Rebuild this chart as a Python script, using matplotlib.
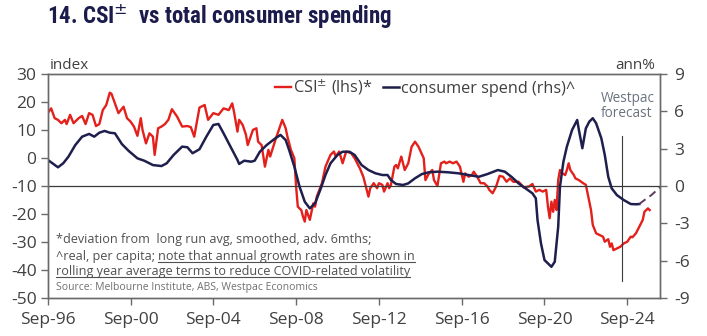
import numpy as np
import pandas as pd
import matplotlib
matplotlib.use('Agg')
import matplotlib.pyplot as plt
from matplotlib.lines import Line2D
from matplotlib import font_manager

plt.rcParams['font.family'] = ['Open Sans', 'DejaVu Sans']
plt.rcParams['axes.unicode_minus'] = False

# CSI (lhs, index, deviation from long run avg)
csi_dates = [
    '1996-09', '1996-11', '1997-01', '1997-03', '1997-05', '1997-07', '1997-08', '1997-10', '1997-12',
    '1998-03', '1998-05', '1998-07', '1998-09', '1998-11', '1999-01', '1999-03', '1999-05', '1999-07',
    '1999-09', '1999-10', '1999-12', '2000-02', '2000-05', '2000-07', '2000-09', '2000-11', '2001-01',
    '2001-03', '2001-04', '2001-06', '2001-08', '2001-10', '2001-11', '2002-01', '2002-03', '2002-05',
    '2002-07', '2002-09', '2002-12', '2003-03', '2003-06', '2003-08', '2003-10', '2003-11', '2004-01',
    '2004-04', '2004-06', '2004-09', '2004-12', '2005-03', '2005-06', '2005-08', '2005-09', '2005-11',
    '2005-12', '2006-02', '2006-04', '2006-05', '2006-06', '2006-08', '2006-10', '2006-11', '2007-01',
    '2007-03', '2007-05', '2007-06', '2007-09', '2007-11', '2008-01', '2008-03', '2008-04', '2008-06',
    '2008-08', '2008-09', '2008-10', '2008-12', '2009-01', '2009-02', '2009-03', '2009-05', '2009-07',
    '2009-08', '2009-09', '2009-12', '2010-02', '2010-05', '2010-07', '2010-08', '2010-10', '2010-12',
    '2011-02', '2011-05', '2011-07', '2011-10', '2011-12', '2012-03', '2012-04', '2012-06', '2012-08',
    '2012-09', '2012-11', '2012-12', '2013-02', '2013-03', '2013-04', '2013-06', '2013-07', '2013-08',
    '2013-10', '2013-11', '2013-12', '2014-02', '2014-04', '2014-06', '2014-08', '2014-11', '2014-12',
    '2015-02', '2015-04', '2015-05', '2015-07', '2015-09', '2015-11', '2015-12', '2016-02', '2016-04',
    '2016-06', '2016-08', '2016-10', '2016-11', '2017-01', '2017-03', '2017-04', '2017-06', '2017-08',
    '2017-10', '2017-12', '2018-01', '2018-03', '2018-05', '2018-07', '2018-09', '2018-11', '2019-01',
    '2019-03', '2019-06', '2019-09', '2019-12', '2020-02', '2020-04', '2020-06', '2020-08', '2020-10',
    '2020-11', '2020-12', '2021-01', '2021-02', '2021-03', '2021-04', '2021-05', '2021-06', '2021-07',
    '2021-09', '2021-10', '2021-11', '2021-12', '2022-02', '2022-03', '2022-05', '2022-07', '2022-09',
    '2022-10', '2022-12', '2023-01', '2023-03', '2023-05', '2023-07', '2023-08', '2023-10', '2023-11',
    '2023-12', '2024-01', '2024-03', '2024-05', '2024-07', '2024-09', '2024-11', '2024-12', '2025-02',
    '2025-04', '2025-06', '2025-07', '2025-09', '2025-10']
csi_values = [
    16.0, 17.7, 14.2, 13.6, 12.4, 13.6, 12.1, 15.4, 12.4,
    14.2, 15.0, 12.1, 16.0, 15.4, 11.4, 12.1, 17.1, 18.9,
    23.3, 22.9, 19.5, 16.0, 18.3, 14.2, 13.0, 11.2, 7.9,
    14.2, 10.0, 5.2, 8.8, 7.6, 1.1, 10.6, 11.2, 12.1,
    13.6, 17.4, 14.8, 11.2, 11.4, 11.0, 7.6, 11.2, 18.0,
    18.9, 13.6, 16.0, 15.4, 17.7, 17.1, 19.5, 16.5, 9.4,
    13.6, 11.8, 8.2, 4.6, 6.4, 10.0, 10.6, 5.8, 4.6,
    -3.1, 2.9, 0.5, 6.4, 10.0, 13.6, 10.6, 7.6, 2.9,
    -0.1, -10.2, -17.4, -18.6, -21.0, -22.7, -18.6, -22.1, -16.2,
    -17.4, -13.8, -9.0, -3.1, 1.1, 2.3, 0.5, 2.3, -1.9,
    2.3, 1.7, -0.1, -3.7, -6.7, -13.8, -10.8, -9.0, -10.8,
    -9.0, -9.6, -12.0, -9.0, -10.8, -9.6, -3.1, -2.5, -3.7,
    0.5, -1.9, -4.3, -1.9, 4.0, 5.8, 4.0, -0.1, -7.9,
    -5.5, -4.3, -7.9, -10.0, -1.9, -1.3, -1.9, -1.3, -1.9,
    -1.3, -3.1, -8.5, -5.5, -6.7, -6.1, -4.9, -6.7, -9.0,
    -9.0, -10.2, -11.4, -12.6, -10.2, -6.4, -6.7, -8.5, -7.3,
    -8.5, -8.5, -10.5, -10.2, -9.3, -12.0, -11.4, -12.0, -11.4,
    -17.4, -21.5, -15.6, -19.2, -15.0, -18.6, -7.9, -4.3, -5.3,
    -6.1, -4.3, -1.9, -4.3, -6.1, -7.3, -7.9, -8.8, -9.6,
    -12.6, -18.6, -23.9, -26.9, -27.5, -28.1, -29.9, -29.0, -31.7,
    -30.5, -32.9, -32.3, -31.7, -30.5, -29.9, -28.1, -28.3, -26.9,
    -24.5, -22.1, -19.2, -18.0, -18.6]

# consumer spend (rhs, ann%)
spend_dates = [
    '1996-09', '1997-03', '1997-06', '1997-09', '1998-01', '1998-05', '1998-09', '1998-12', '1999-03',
    '1999-06', '1999-09', '1999-12', '2000-04', '2000-08', '2001-01', '2001-05', '2001-10', '2002-03',
    '2002-06', '2002-10', '2003-03', '2003-06', '2003-09', '2004-01', '2004-05', '2004-09', '2004-12',
    '2005-03', '2005-07', '2005-11', '2005-12', '2006-03', '2006-07', '2006-09', '2006-12', '2007-04',
    '2007-09', '2007-12', '2008-03', '2008-05', '2008-08', '2008-11', '2009-02', '2009-05', '2009-08',
    '2009-11', '2010-02', '2010-05', '2010-09', '2010-12', '2011-04', '2011-07', '2011-11', '2012-03',
    '2012-07', '2012-11', '2013-02', '2013-04', '2013-07', '2013-11', '2014-02', '2014-06', '2014-10',
    '2015-02', '2015-07', '2016-01', '2016-07', '2017-01', '2017-07', '2017-12', '2018-06', '2018-10',
    '2019-02', '2019-06', '2019-10', '2020-02', '2020-04', '2020-05', '2020-07', '2020-09', '2021-01',
    '2021-03', '2021-05', '2021-06', '2021-08', '2021-10', '2022-01', '2022-04', '2022-05', '2022-07',
    '2022-09', '2022-11', '2023-01', '2023-03', '2023-06', '2023-08', '2023-10', '2023-12', '2024-03',
    '2024-07', '2024-11', '2025-02', '2025-04']
spend_values = [
    2.10, 1.50, 1.82, 2.35, 3.29, 3.96, 4.18, 3.96, 4.28,
    4.42, 4.28, 4.23, 3.37, 2.81, 2.22, 2.03, 1.68, 1.60,
    1.82, 2.49, 3.16, 3.11, 2.63, 2.95, 3.96, 4.90, 4.98,
    4.23, 3.16, 2.09, 1.77, 2.03, 1.95, 2.03, 2.75, 3.29,
    3.83, 4.10, 3.69, 2.89, 1.55, -0.06, -1.27, -1.80, -1.39,
    -0.32, 0.88, 1.82, 2.49, 2.75, 2.75, 2.49, 1.68, 1.28,
    1.02, 0.88, 0.88, 0.48, 0.16, 0.08, 0.21, 0.62, 0.96,
    1.10, 1.15, 1.10, 1.02, 0.88, 0.74, 0.96, 1.28, 1.15,
    0.72, 0.21, -0.19, -0.59, -0.99, -2.73, -4.61, -5.95, -6.49,
    -6.09, -3.27, -0.06, 1.95, 3.16, 4.50, 5.30, 4.50, 3.03,
    4.63, 5.17, 5.44, 5.04, 3.83, 2.49, 0.74, -0.19, -0.73,
    -1.13, -1.45, -1.47, -1.45]

# Westpac forecast of consumer spend
fc_dates = ['2025-04', '2025-07', '2025-11', '2026-04']
fc_values = [-1.45, -1.13, -0.73, -0.11]

tick_dates = ['1996-09', '2000-09', '2004-09', '2008-09', '2012-09', '2016-09', '2020-09', '2024-09']
tick_labels = ['Sep-96', 'Sep-00', 'Sep-04', 'Sep-08', 'Sep-12', 'Sep-16', 'Sep-20', 'Sep-24']
forecast_start = '2024-06'

RED = '#e3201b'
NAVY = '#1f1f4d'
FC = '#5c3a5e'
TXT = '#404040'
SPINE = '#6a6a6a'

# narrow bold face for the heading, if one is around
installed = {f.name for f in font_manager.fontManager.ttflist}
title_family = 'DejaVu Sans'
for name in ['Roboto Condensed', 'Liberation Sans Narrow', 'Open Sans Condensed', 'Roboto']:
    if name in installed:
        title_family = name
        break

fig = plt.figure(figsize=(7.07, 3.36), dpi=100)
ax = fig.add_axes([0.0675, 0.113, 0.866, 0.667])
ax2 = ax.twinx()

ax.plot(pd.to_datetime(csi_dates), csi_values, color=RED, lw=1.7, label='CSI$^{\\pm}$ (lhs)*')
ax2.plot(pd.to_datetime(spend_dates), spend_values, color=NAVY, lw=1.8, label='consumer spend (rhs)^')
ax2.plot(pd.to_datetime(fc_dates), fc_values, color=FC, lw=1.4, ls=(0, (4, 2.5)))

ax.axhline(-10, color='#3a3a3a', lw=0.9)
ax.axvline(pd.Timestamp(forecast_start), ymin=0.076, ymax=0.723, color='#3a3a3a', lw=0.8)

ax.set_xlim(pd.Timestamp('1996-09-01'), pd.Timestamp('2026-04-01'))
ax.set_ylim(-50, 30)
ax2.set_ylim(-9, 9)
ax.set_yticks(np.arange(-50, 31, 10))
ax2.set_yticks(np.arange(-9, 10, 3))
ax.set_xticks(pd.to_datetime(tick_dates))
ax.set_xticklabels(tick_labels)

for a in (ax, ax2):
    for s in a.spines.values():
        s.set_color(SPINE)
        s.set_linewidth(1.0)
ax.tick_params(axis='both', direction='out', length=5, width=1, color=SPINE,
               labelcolor=TXT, labelsize=12.5)
ax.tick_params(axis='x', pad=5)
ax.tick_params(axis='y', pad=3)
ax2.tick_params(axis='y', direction='out', length=5, width=1, color=SPINE,
                labelcolor=TXT, labelsize=12.5, pad=5)

title = fig.text(0.067, 0.95, '14. CSI$^{\\pm}$  vs total consumer spending', fontsize=18,
                 fontweight='bold', color='#1c1c4c', va='center', ha='left',
                 family=title_family)
fig.text(0.071, 0.805, 'index', fontsize=11, color=TXT, va='center', ha='left')
fig.text(0.927, 0.805, 'ann%', fontsize=11, color=TXT, va='center', ha='right')

h1, l1 = ax.get_legend_handles_labels()
h2, l2 = ax2.get_legend_handles_labels()
ax2.legend(h1 + h2, l1 + l2, loc='center left', bbox_to_anchor=(0.36, 0.94), ncol=2,
           frameon=False, fontsize=11.7, handlelength=1.0, handletextpad=0.15,
           columnspacing=0.6, borderaxespad=0, labelcolor=TXT)

ax2.text(0.903, 0.891, 'Westpac', transform=ax2.transAxes, fontsize=9.8,
         color='#6b7380', va='center', ha='left')
ax2.text(0.903, 0.824, 'forecast', transform=ax2.transAxes, fontsize=9.8,
         color='#6b7380', va='center', ha='left')

note_kw = dict(fontsize=9.1, color='#505050', va='center', ha='left')
ax2.text(0.0136, 0.259, '*deviation from  long run avg, smoothed, adv. 6mths;',
         transform=ax2.transAxes, **note_kw)
t2a = ax2.text(0.0136, 0.1875, '^real, per capita; ', transform=ax2.transAxes, **note_kw)
t2b = ax2.annotate('note that annual growth rates are shown in', xy=(1, 0.5), xycoords=t2a,
                   **note_kw)
t3 = ax2.text(0.0136, 0.1205, 'rolling year average terms to reduce COVID-related volatility',
              transform=ax2.transAxes, **note_kw)
ax2.text(0.0136, 0.049, 'Source: Melbourne Institute, ABS, Westpac Economics',
         transform=ax2.transAxes, fontsize=7.5, color='#707070', va='center', ha='left')

# shrink the heading to the width it takes in the original
fig.canvas.draw()
w = title.get_window_extent().width
if w > 345:
    title.set_fontsize(18 * 345 / w)

# underline the highlighted part of the note
fig.canvas.draw()
inv = fig.transFigure.inverted()
for t in (t2b, t3):
    bb = t.get_window_extent().transformed(inv)
    y = bb.y0 + 0.3 / 336
    fig.add_artist(Line2D([bb.x0, bb.x1], [y, y], transform=fig.transFigure,
                          color='#505050', lw=0.8))

fig.savefig('out.png', dpi=100)
